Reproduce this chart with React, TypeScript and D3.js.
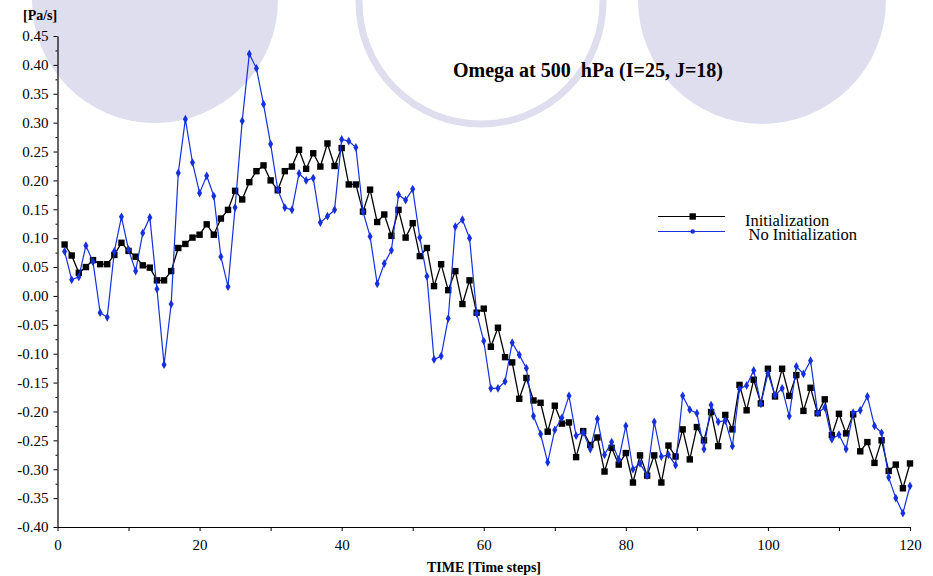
import React, { useEffect, useRef } from 'react';
import * as d3 from 'd3';

// time steps 1..120
const steps: number[] = d3.range(1, 121);

const initialization: number[] = [
  0.089, 0.070, 0.040, 0.050, 0.062, 0.055, 0.055, 0.071, 0.092, 0.078,
  0.068, 0.053, 0.049, 0.027, 0.027, 0.043, 0.083, 0.090, 0.101, 0.106,
  0.124, 0.106, 0.134, 0.149, 0.182, 0.167, 0.197, 0.216, 0.226, 0.200,
  0.183, 0.216, 0.224, 0.253, 0.220, 0.247, 0.224, 0.264, 0.225, 0.256,
  0.193, 0.193, 0.146, 0.184, 0.128, 0.141, 0.104, 0.149, 0.101, 0.126,
  0.069, 0.083, 0.017, 0.055, 0.010, 0.043, -0.014, 0.027, -0.029, -0.022,
  -0.088, -0.055, -0.106, -0.115, -0.178, -0.142, -0.181, -0.185, -0.235, -0.190,
  -0.221, -0.219, -0.279, -0.234, -0.258, -0.245, -0.304, -0.263, -0.292, -0.272,
  -0.323, -0.276, -0.311, -0.276, -0.323, -0.259, -0.278, -0.231, -0.283, -0.227,
  -0.250, -0.201, -0.260, -0.206, -0.231, -0.154, -0.198, -0.145, -0.186, -0.126,
  -0.174, -0.126, -0.173, -0.137, -0.199, -0.159, -0.203, -0.179, -0.241, -0.204,
  -0.238, -0.205, -0.269, -0.253, -0.289, -0.250, -0.303, -0.292, -0.333, -0.290,
];

const noInitialization: number[] = [
  0.077, 0.028, 0.033, 0.087, 0.059, -0.029, -0.037, 0.077, 0.137, 0.080,
  0.043, 0.109, 0.136, 0.012, -0.119, -0.014, 0.213, 0.306, 0.231, 0.178,
  0.208, 0.173, 0.068, 0.016, 0.153, 0.303, 0.419, 0.394, 0.332, 0.263,
  0.184, 0.153, 0.149, 0.212, 0.200, 0.204, 0.127, 0.138, 0.149, 0.271,
  0.268, 0.257, 0.146, 0.103, 0.021, 0.056, 0.079, 0.175, 0.166, 0.185,
  0.101, 0.034, -0.110, -0.104, -0.039, 0.120, 0.132, 0.100, -0.030, -0.078,
  -0.160, -0.160, -0.148, -0.081, -0.102, -0.125, -0.208, -0.239, -0.288, -0.232,
  -0.211, -0.173, -0.242, -0.236, -0.265, -0.213, -0.275, -0.253, -0.283, -0.225,
  -0.300, -0.290, -0.311, -0.218, -0.278, -0.275, -0.293, -0.173, -0.197, -0.203,
  -0.265, -0.189, -0.218, -0.216, -0.260, -0.161, -0.155, -0.129, -0.187, -0.134,
  -0.172, -0.160, -0.208, -0.122, -0.135, -0.112, -0.203, -0.193, -0.248, -0.240,
  -0.265, -0.202, -0.198, -0.174, -0.225, -0.237, -0.314, -0.350, -0.376, -0.329,
];

const xTicks: number[] = [0, 20, 40, 60, 80, 100, 120];
const xMinorTicks: number[] = [10, 30, 50, 70, 90, 110];
const yTicks: number[] = d3.range(-8, 10).map(i => i * 0.05);
const yMinorTicks: number[] = d3.range(-7, 9).map(i => i * 0.05 + 0.025);
const seriesNames: string[] = ['Initialization', 'No Initialization'];

const BLUE = '#1530dc';
const LAVENDER = '#dedeee';
const FONT = 'Liberation Serif, Times New Roman, serif';

export default function App() {
  const ref = useRef<SVGSVGElement | null>(null);

  useEffect(() => {
    const width = 933, height = 576;
    const svg = d3.select(ref.current);
    svg.selectAll('*').remove();
    svg.attr('width', width).attr('height', height).attr('font-family', FONT);

    // decorative background circles
    svg.append('circle').attr('cx', 155).attr('cy', 0).attr('r', 123).attr('fill', LAVENDER);
    svg.append('circle').attr('cx', 481).attr('cy', 2).attr('r', 122)
      .attr('fill', 'none').attr('stroke', LAVENDER).attr('stroke-width', 7);
    svg.append('circle').attr('cx', 762).attr('cy', 0).attr('r', 124).attr('fill', LAVENDER);

    const x = d3.scaleLinear().domain([0, 120]).range([57.5, 910]);
    const y = d3.scaleLinear().domain([-0.4, 0.45]).range([527, 36]);

    // minor ticks
    svg.append('g')
      .attr('transform', 'translate(0,527)')
      .call(d3.axisBottom(x).tickValues(xMinorTicks).tickSize(4).tickSizeOuter(0).tickFormat(() => ''))
      .call(g => g.select('.domain').remove());
    svg.append('g')
      .attr('transform', 'translate(57.5,0)')
      .call(d3.axisLeft(y).tickValues(yMinorTicks).tickSize(2).tickSizeOuter(0).tickFormat(() => ''))
      .call(g => g.select('.domain').remove());

    // x axis
    svg.append('g')
      .attr('transform', 'translate(0,527)')
      .call(d3.axisBottom(x).tickValues(xTicks).tickSize(4).tickSizeOuter(0).tickPadding(8).tickFormat(d => String(d)))
      .attr('font-family', FONT)
      .attr('font-size', 15)
      .call(g => g.selectAll('text').attr('fill', '#000'));

    // y axis
    svg.append('g')
      .attr('transform', 'translate(57.5,0)')
      .call(d3.axisLeft(y).tickValues(yTicks).tickSize(4).tickSizeOuter(0).tickPadding(5)
        .tickFormat(d => (+d).toFixed(2)))
      .attr('font-family', FONT)
      .attr('font-size', 15)
      .call(g => g.selectAll('text').attr('fill', '#000'));

    svg.selectAll('.domain').attr('stroke-width', 1.2);

    const line = d3.line<number>()
      .x((d, i) => x(steps[i]))
      .y(d => y(d));

    // Initialization (black squares)
    svg.append('path').datum(initialization)
      .attr('d', line).attr('fill', 'none').attr('stroke', '#000').attr('stroke-width', 1.3);
    svg.append('g').selectAll('rect')
      .data(initialization)
      .enter()
      .append('rect')
      .attr('x', (d, i) => x(steps[i]) - 3.2)
      .attr('y', d => y(d) - 3.2)
      .attr('width', 6.4)
      .attr('height', 6.4)
      .attr('fill', '#000');

    // No Initialization (blue dots)
    svg.append('path').datum(noInitialization)
      .attr('d', line).attr('fill', 'none').attr('stroke', BLUE).attr('stroke-width', 1.2);
    svg.append('g').selectAll('path')
      .data(noInitialization)
      .enter()
      .append('path')
      .attr('d', d3.symbol().type(d3.symbolDiamond).size(22))
      .attr('transform', (d, i) => 'translate(' + x(steps[i]) + ',' + y(d) + ')')
      .attr('fill', BLUE);

    // legend
    const legend = svg.append('g');
    legend.append('line').attr('x1', 658).attr('x2', 725).attr('y1', 216.5).attr('y2', 216.5)
      .attr('stroke', '#000').attr('stroke-width', 1.2);
    legend.append('rect').attr('x', 689.5).attr('y', 213.3).attr('width', 6.4).attr('height', 6.4).attr('fill', '#000');
    legend.append('line').attr('x1', 658).attr('x2', 725).attr('y1', 231.5).attr('y2', 231.5)
      .attr('stroke', BLUE).attr('stroke-width', 1.2);
    legend.append('circle').attr('cx', 692.7).attr('cy', 231.5).attr('r', 2.3).attr('fill', BLUE);
    legend.append('text').attr('x', 745).attr('y', 225.5).attr('font-size', 16.5).text(seriesNames[0]);
    legend.append('text').attr('x', 748.5).attr('y', 240).attr('font-size', 16.5).text(seriesNames[1]);

    // title and axis labels
    svg.append('text')
      .attr('x', 588).attr('y', 77)
      .attr('text-anchor', 'middle')
      .attr('font-size', 20).attr('font-weight', 'bold').style('white-space', 'pre')
      .text('Omega at 500  hPa (I=25, J=18)');
    svg.append('text')
      .attr('x', 23).attr('y', 20)
      .attr('font-size', 14).attr('font-weight', 'bold')
      .text('[Pa/s]');
    svg.append('text')
      .attr('x', 484).attr('y', 572)
      .attr('text-anchor', 'middle')
      .attr('font-size', 14).attr('font-weight', 'bold')
      .text('TIME [Time steps]');
  }, []);

  return <svg ref={ref} style={{ position: 'absolute', left: 0, top: 0, background: '#fff' }}></svg>;
}
